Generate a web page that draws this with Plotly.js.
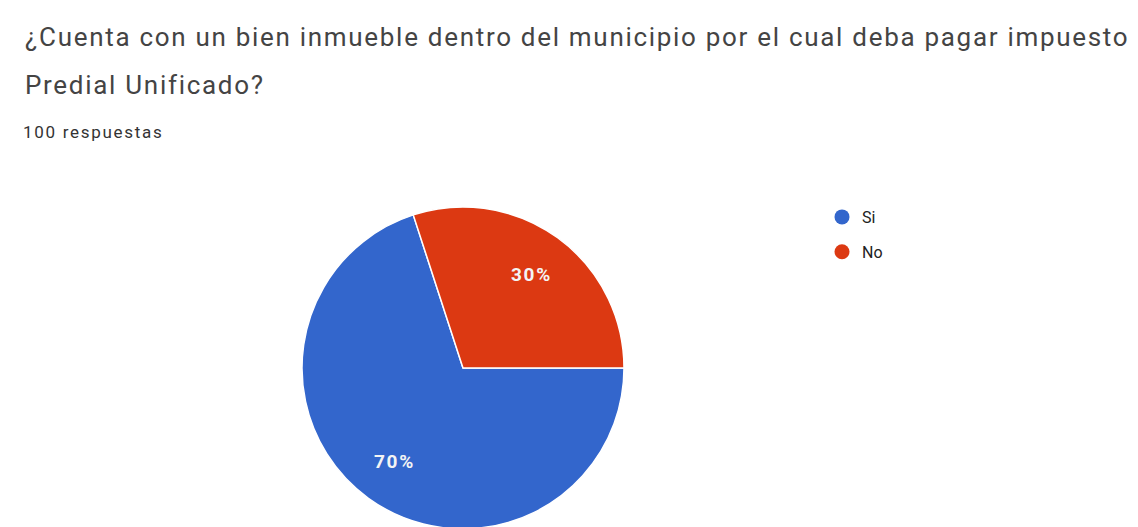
<!DOCTYPE html>
<html>
<head>
<meta charset="utf-8">
<script src="https://cdn.plot.ly/plotly-3.0.1.min.js"></script>
<style>
html,body{margin:0;padding:0;overflow:hidden;background:#fff;}
#chart{width:1138px;height:560px;}
text.annotation-text{letter-spacing:1.7px;}
</style>
</head>
<body>
<div id="chart"></div>
<script>
const categories = ['Si', 'No'];
const values = [70, 30];
const colors = ['#3366cc', '#dc3912'];
const titleLines = ['¿Cuenta con un bien inmueble dentro del municipio por el cual deba pagar impuesto', 'Predial Unificado?'];
const subtitle = '100 respuestas';

const W = 1138, H = 560;
const px = v => v / W;
const py = v => (H - v) / H;

// pie geometry (pixels)
const CX = 463, CY = 368, R = 161;
const ROT = 90;

const pie = {
  type: 'pie',
  labels: categories,
  values: values,
  sort: false,
  direction: 'clockwise',
  rotation: ROT,
  marker: {colors: colors, line: {color: '#ffffff', width: 1.5}},
  textinfo: 'none',
  hoverinfo: 'label+percent',
  showlegend: false,
  domain: {x: [px(CX - R), px(CX + R)], y: [py(CY + R), py(CY - R)]}
};

// percentage labels placed along each slice's mid-angle, computed from the values
const total = values.reduce((a, b) => a + b, 0);
let cum = 0;
const pctAnnotations = values.map(v => {
  const mid = (ROT + (cum + v / 2) / total * 360) * Math.PI / 180;
  cum += v;
  const rr = 0.72 * R;
  return {
    text: Math.round(v / total * 100) + '%',
    xref: 'paper', yref: 'paper',
    x: px(CX + rr * Math.sin(mid)), y: py(CY - rr * Math.cos(mid)),
    xanchor: 'center', yanchor: 'middle', showarrow: false,
    font: {family: 'Roboto, Arial, sans-serif', size: 19, color: '#f4f4f4', weight: 'bold'}
  };
});

const legendTraces = categories.map((c, i) => ({
  type: 'scatter', mode: 'markers', name: c, legendgroup: c,
  x: [null], y: [null],
  marker: {color: colors[i], size: 15, symbol: 'circle'},
  showlegend: true, hoverinfo: 'skip'
}));

const layout = {
  width: W, height: H,
  margin: {l: 0, r: 0, t: 0, b: 0},
  paper_bgcolor: '#ffffff', plot_bgcolor: 'rgba(0,0,0,0)',
  xaxis: {visible: false, domain: [0.99, 1]},
  yaxis: {visible: false, domain: [0.99, 1]},
  showlegend: true,
  legend: {
    x: px(822), y: py(200), xanchor: 'left', yanchor: 'top',
    font: {family: 'Roboto, Arial, sans-serif', size: 16, color: '#222222'},
    itemwidth: 30, traceorder: 'grouped', tracegroupgap: 11, bgcolor: 'rgba(0,0,0,0)'
  },
  annotations: [
    {text: titleLines[0], xref: 'paper', yref: 'paper', x: px(23), y: py(37), xanchor: 'left', yanchor: 'middle', showarrow: false,
     font: {family: 'Roboto, Arial, sans-serif', size: 26, color: '#444444'}},
    {text: titleLines[1], xref: 'paper', yref: 'paper', x: px(23), y: py(85), xanchor: 'left', yanchor: 'middle', showarrow: false,
     font: {family: 'Roboto, Arial, sans-serif', size: 26, color: '#444444'}},
    {text: subtitle, xref: 'paper', yref: 'paper', x: px(21), y: py(132), xanchor: 'left', yanchor: 'middle', showarrow: false,
     font: {family: 'Roboto, Arial, sans-serif', size: 17, color: '#333333'}}
  ].concat(pctAnnotations)
};

Plotly.newPlot('chart', [pie].concat(legendTraces), layout, {displayModeBar: false, staticPlot: true});
</script>
</body>
</html>
